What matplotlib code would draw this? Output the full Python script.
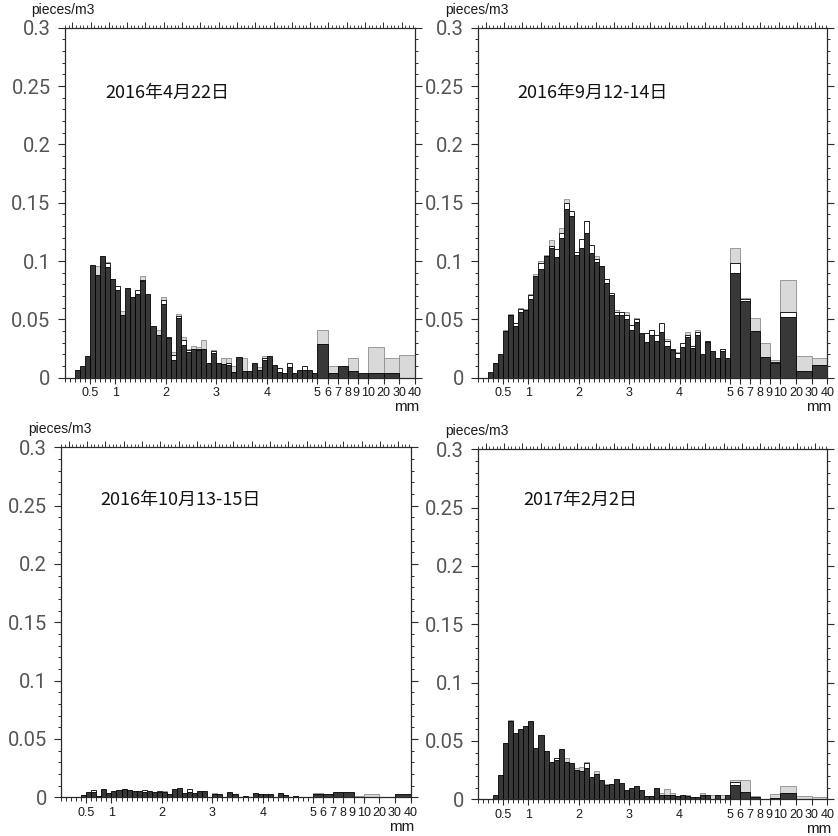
import numpy as np
import matplotlib
matplotlib.use("Agg")
import matplotlib.pyplot as plt
from matplotlib.ticker import FixedLocator, NullFormatter
from matplotlib.transforms import ScaledTranslation

# ---------------- data ----------------
edges_mm = [round(0.1 * i, 1) for i in range(51)] + [6, 7, 8, 9, 10, 20, 30, 40]
xtick_vals = [0.5, 1, 2, 3, 4, 5, 6, 7, 8, 9, 10, 20, 30, 40]
xtick_labels = ["0.5", "1", "2", "3", "4", "5", "6", "7", "8", "9", "10", "20", "30", "40"]
ytick_vals = [0, 0.05, 0.1, 0.15, 0.2, 0.25, 0.3]
ytick_labels = ["0", "0.05", "0.1", "0.15", "0.2", "0.25", "0.3"]
titles = ["2016年4月22日", "2016年9月12-14日", "2016年10月13-15日", "2017年2月2日"]

# panel 1 : 2016-04-22
p1_dark = [0, 0, .0066, .010, .019, .097, .088, .104, .095, .085,
           .075, .054, .077, .069, .072, .083, .072, .0446, .037, .063,
           .0337, .015, .051, .028, .022, .025, .024, .025, .0123, .021,
           .0123, .012, .011, .005, .018, .006, .006, .013, .0066, .015,
           .0186, .011, .005, .0037, .0094, .0037, .0066, .0066, .0066, .0037,
           .029, .0037, .010, .0057, .0037, .0037, .0037, 0]
p1_white = [0, 0, 0, 0, 0, 0, 0, 0, .003, 0,
            .0036, 0, 0, 0, .003, .001, 0, 0, 0, .0036,
            .0013, .0044, .002, .004, .002, 0, .001, 0, 0, .002,
            0, 0, .0014, 0, 0, 0, 0, 0, 0, .002,
            0, 0, .0036, 0, .0034, 0, 0, .0034, 0, 0,
            0, 0, 0, 0, 0, 0, 0, 0]
p1_light = [0, 0, 0, 0, 0, 0, .008, 0, .001, 0,
            0, .003, 0, 0, 0, .003, 0, 0, .004, .0024,
            0, .0026, .0016, .003, .001, .002, .001, .007, 0, .001,
            0, .0046, .0042, .005, 0, .0106, 0, 0, .0028, .0016,
            0, 0, 0, 0, 0, 0, 0, 0, 0, 0,
            .012, .0063, 0, .0109, 0, .0223, .0129, .0194]

# panel 2 : 2016-09-12..14
p2_dark = [0, 0, .005, .013, .020, .040, .054, .044, .0566, .058,
           .0674, .087, .093, .104, .111, .1037, .120, .145, .139, .105,
           .111, .124, .107, .0994, .0957, .081, .071, .054, .054, .050,
           .041, .048, .0386, .031, .037, .0317, .039, .0274, .0237, .0166,
           .0266, .035, .0257, .037, .020, .031, .0229, .0171, .0229, .0171,
           .090, .0657, .040, .018, .0123, .0523, .006, .011]
p2_white = [0, 0, 0, 0, 0, 0, 0, .0025, .002, 0,
            .0036, 0, .005, 0, .002, .007, .004, .005, .004, .003,
            .0076, .010, .0067, .0026, 0, .004, .002, .0026, .002, .004,
            .004, .002, 0, .007, .004, .005, .0076, .0043, .0013, .0044,
            .0028, .002, .0017, .0024, 0, .0004, 0, 0, .0014, 0,
            .0086, .0017, 0, 0, .0014, .0037, 0, 0]
p2_light = [0, 0, 0, 0, 0, .001, .001, 0, .001, .001,
            .001, .0016, .002, .001, .005, 0, .004, .003, 0, 0,
            0, .0006, 0, .002, 0, 0, 0, .0014, 0, .002,
            0, .001, 0, 0, 0, 0, 0, .0013, 0, .0007,
            0, .0024, 0, .0016, 0, 0, 0, 0, .0007, 0,
            .0124, .0006, .011, .0114, .0013, .0277, .0126, .0061]

# panel 3 : 2016-10-13..15
p3_dark = [0, 0, 0, 0, .002, .0043, .0043, .001, .0069, .0034,
           .005, .006, .007, .006, .005, .005, .0043, .005, .0043, .0043,
           .0043, .003, .007, .0083, .0034, .0043, .0034, .005, .005, 0,
           .0026, .0026, 0, .0043, .0026, 0, .0014, 0, .004, .0026,
           .0026, .0026, 0, .0034, .002, 0, .0014, 0, 0, 0,
           .0026, .0026, .0043, .0043, 0, 0, 0, .0026]
p3_white = [0, 0, 0, 0, 0, 0, .002, 0, 0, 0,
            0, 0, 0, 0, 0, 0, .002, 0, 0, .0007,
            0, 0, 0, 0, 0, .0027, 0, 0, 0, 0,
            0, 0, 0, 0, 0, 0, 0, 0, 0, 0,
            0, 0, 0, 0, 0, 0, 0, 0, 0, 0,
            0, 0, 0, 0, 0, 0, 0, 0]
p3_light = [0, 0, 0, 0, 0, 0, 0, 0, 0, 0,
            0, 0, 0, 0, 0, 0, 0, 0, 0, 0,
            .001, 0, 0, 0, 0, 0, 0, 0, 0, 0,
            .0014, 0, 0, 0, 0, 0, 0, 0, 0, 0,
            0, 0, 0, 0, 0, 0, 0, 0, 0, 0,
            .0014, 0, 0, 0, .0009, .0026, 0, 0]

# panel 4 : 2017-02-02
p4_dark = [0, 0, 0, .0037, .021, .048, .067, .057, .060, .063,
           .067, .0437, .055, .041, .032, .034, .043, .032, .031, .025,
           .0246, .027, .019, .022, .0166, .012, .013, .017, .0137, .008,
           .0094, .0114, .008, .003, .003, .0094, .0037, .004, .0037, .003,
           .0037, .003, .0023, .0017, .0037, .0037, 0, .0037, 0, .0037,
           .0123, .0066, .0017, 0, .001, .005, 0, 0]
p4_white = [0, 0, 0, 0, 0, 0, 0, 0, 0, 0,
            0, 0, 0, 0, 0, .0016, 0, 0, 0, 0,
            0, .004, 0, 0, 0, 0, 0, 0, 0, 0,
            0, 0, 0, 0, 0, 0, 0, 0, 0, 0,
            0, 0, 0, 0, 0, 0, 0, 0, 0, 0,
            .0027, 0, 0, 0, 0, 0, 0, 0]
p4_light = [0, 0, 0, 0, 0, 0, .001, 0, 0, 0,
            0, 0, 0, 0, 0, 0, 0, .003, 0, .0015,
            .003, .001, 0, .002, 0, .0014, 0, 0, 0, 0,
            0, 0, 0, 0, 0, 0, .0014, .005, .0014, 0,
            0, .0009, 0, 0, .0014, 0, .0037, 0, .0037, 0,
            .0016, .010, .0013, 0, .0033, .006, .003, .0017]

panels = [
    (titles[0], p1_dark, p1_white, p1_light),
    (titles[1], p2_dark, p2_white, p2_light),
    (titles[2], p3_dark, p3_white, p3_light),
    (titles[3], p4_dark, p4_white, p4_light),
]


# ------------- x scale: linear 0-5, compressed beyond -------------
def to_u(x):
    x = np.asarray(x, dtype=float)
    return np.where(x <= 5, x,
                    np.where(x <= 10, 5 + 0.2 * (x - 5), 6 + 0.031 * (x - 10)))


UMAX = float(to_u(40))

W, H = 838, 836
fig = plt.figure(figsize=(W / 100, H / 100), dpi=100)

# axes boxes in pixels: (left, top, right, bottom)
boxes = [(64.5, 27.7, 415, 377.7),
         (478, 27.7, 827.3, 377.7),
         (61, 447.3, 410.5, 797.3),
         (478, 449.3, 827.3, 799.3)]
title_pos = [(0.116, 0.813), (0.112, 0.813), (0.112, 0.85), (0.129, 0.854)]

DARK = "#383838"
LIGHT = "#d9d9d9"
AX_COL = "#2a2a2a"
XFONT = ["Liberation Sans", "DejaVu Sans"]

u_edges = to_u(edges_mm)
lefts = u_edges[:-1]
widths = np.diff(u_edges)

for i, (title, dark, white, light) in enumerate(panels):
    l, t, r, b = boxes[i]
    ax = fig.add_axes([l / W, 1 - b / H, (r - l) / W, (b - t) / H])
    dark = np.array(dark)
    white = np.array(white)
    light = np.array(light)

    m = dark > 0
    ax.bar(lefts[m], dark[m], width=widths[m], align="edge", color=DARK,
           edgecolor="black", linewidth=0.6, zorder=3)
    m = white > 0
    ax.bar(lefts[m], white[m], width=widths[m], bottom=dark[m], align="edge",
           color="white", edgecolor="black", linewidth=0.6, zorder=3)
    m = light > 0
    ax.bar(lefts[m], light[m], width=widths[m], bottom=(dark + white)[m],
           align="edge", color=LIGHT, edgecolor="#8c8c8c", linewidth=0.6, zorder=2)

    ax.set_xlim(0, UMAX)
    ax.set_ylim(0, 0.3)

    for s in ax.spines.values():
        s.set_color(AX_COL)
        s.set_linewidth(0.9)

    # y axis
    ax.yaxis.set_major_locator(FixedLocator(ytick_vals))
    ax.set_yticklabels(ytick_labels, fontsize=14.5, color="#555555",
                       family=["Roboto", "DejaVu Sans"], fontweight="normal")
    ax.yaxis.set_minor_locator(FixedLocator(np.arange(0, 0.3001, 0.01)))
    ax.tick_params(axis="y", which="major", direction="out", length=5,
                   width=0.8, color=AX_COL, left=True, right=True, pad=5)
    ax.tick_params(axis="y", which="minor", direction="out", length=2.5,
                   width=0.7, color=AX_COL, left=True, right=True)

    # x axis (bottom)
    ax.xaxis.set_major_locator(FixedLocator(to_u(xtick_vals)))
    ax.set_xticklabels(xtick_labels, fontsize=9, color="#1a1a1a",
                       family=XFONT)
    ax.xaxis.set_minor_locator(FixedLocator(np.arange(0, 5.001, 0.1)))
    ax.xaxis.set_minor_formatter(NullFormatter())
    ax.tick_params(axis="x", which="major", direction="out", length=4.5,
                   width=0.8, color=AX_COL, top=False, pad=2.5)
    ax.tick_params(axis="x", which="minor", direction="out", length=3,
                   width=0.7, color=AX_COL, top=False)
    for lab in ax.get_xticklabels():
        if lab.get_text() == "9":
            lab.set_transform(lab.get_transform() +
                              ScaledTranslation(-1.5 / 100, 0, fig.dpi_scale_trans))

    # top decorative tick scale
    tw = ax.twiny()
    tw.set_xlim(0, 1)
    step = 18.3 / (r - l)
    off = 7.7 / (r - l)
    majors = [off + k * step for k in range(30) if off + k * step <= 1.0]
    minors = [off + k * step / 5 for k in range(-2, 150)
              if 0 <= off + k * step / 5 <= 1.0]
    tw.xaxis.set_major_locator(FixedLocator(majors))
    tw.xaxis.set_minor_locator(FixedLocator(minors))
    tw.xaxis.set_major_formatter(NullFormatter())
    tw.xaxis.set_minor_formatter(NullFormatter())
    tw.tick_params(axis="x", which="major", direction="out", length=4,
                   width=0.7, color=AX_COL, top=True, bottom=False)
    tw.tick_params(axis="x", which="minor", direction="out", length=2.2,
                   width=0.6, color=AX_COL, top=True, bottom=False)
    for s in tw.spines.values():
        s.set_visible(False)

    # labels
    ax.text(-33 / (r - l), 1.0 + 18 / (b - t), "pieces/m3", transform=ax.transAxes,
            fontsize=10, family=["Liberation Sans", "DejaVu Sans"],
            ha="left", va="center", color="#1a1a1a")
    ax.text(1.0 + 4 / (r - l), -29.5 / (b - t), "mm", transform=ax.transAxes,
            fontsize=11, family=["Liberation Sans", "DejaVu Sans"],
            ha="right", va="center", color="#1a1a1a")
    tx, ty = title_pos[i]
    ax.text(tx, ty, title, transform=ax.transAxes, fontsize=13,
            family=["Noto Sans CJK JP", "DejaVu Sans"], ha="left",
            va="center", color="#111111")

fig.savefig("out.png", dpi=100)
